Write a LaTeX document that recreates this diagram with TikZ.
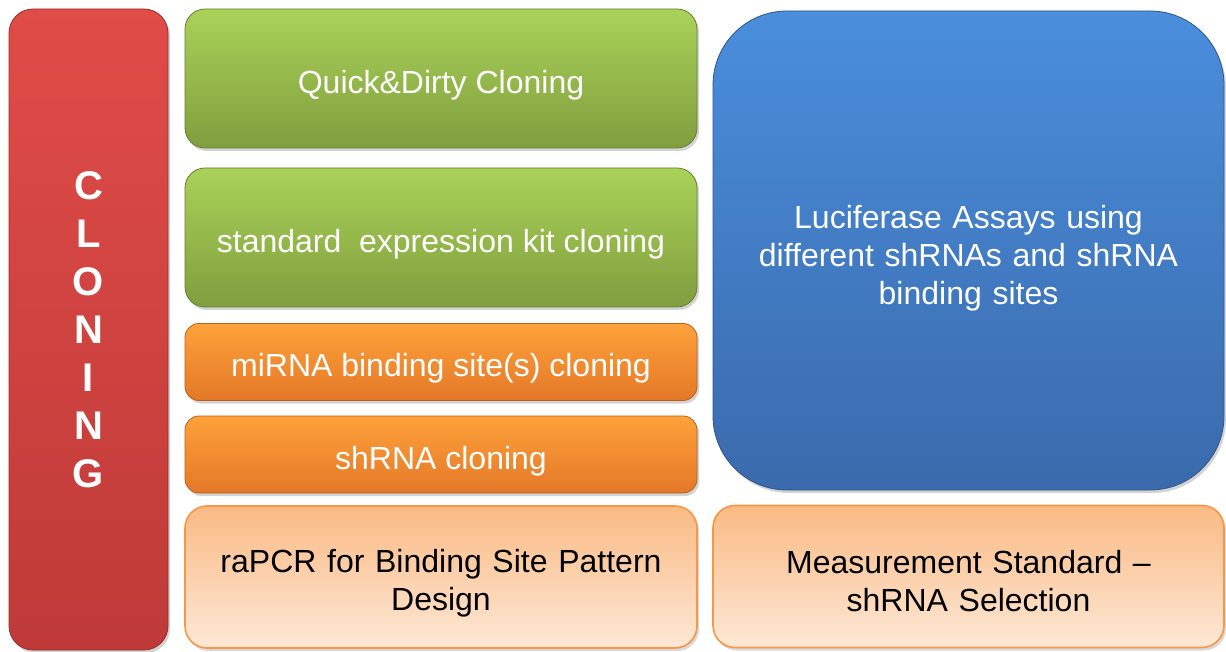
\documentclass[tikz,border=0pt]{standalone}
\usepackage{fontspec}
\setmainfont{Liberation Sans}
\usetikzlibrary{shadows}

\definecolor{redtop}{RGB}{224,76,72}
\definecolor{redbot}{RGB}{190,58,56}
\definecolor{greentop}{RGB}{170,210,88}
\definecolor{greenbot}{RGB}{128,158,62}
\definecolor{orangetop}{RGB}{254,162,58}
\definecolor{orangebot}{RGB}{228,120,40}
\definecolor{peachtop}{RGB}{250,186,132}
\definecolor{peachbot}{RGB}{253,232,214}
\definecolor{peachline}{RGB}{247,150,70}
\definecolor{bluetop}{RGB}{74,142,220}
\definecolor{bluebot}{RGB}{58,106,172}

\begin{document}
\begin{tikzpicture}[x=0.5pt,y=-0.5pt,
  every node/.style={font=\fontsize{16}{19}\selectfont, align=center, inner sep=0pt},
  tile/.style={draw=#1bot!80!black, line width=0.4pt, top color=#1top, bottom color=#1bot,
    drop shadow={shadow xshift=1pt, shadow yshift=-1.5pt, opacity=0.35}},
  redtile/.style={tile=red, rounded corners=12pt, text=white, minimum width=79.5pt, minimum height=320.5pt, text depth=0pt},
  greentile/.style={tile=green, rounded corners=10pt, text=white, minimum width=256pt, minimum height=69.5pt, text height=14.6pt, text depth=0pt},
  orangetile/.style={tile=orange, rounded corners=7pt, text=white, minimum width=256pt, minimum height=38.5pt, text height=14.6pt, text depth=0pt},
  bluetile/.style={tile=blue, rounded corners=37pt, text=white, minimum width=255.5pt, minimum height=239.5pt, text width=230pt},
  peachtile/.style={draw=peachline, line width=0.8pt, top color=peachtop, bottom color=peachbot,
    rounded corners=11pt, text=black, minimum width=256pt, minimum height=71pt, text width=230pt,
    drop shadow={shadow xshift=1pt, shadow yshift=-1.5pt, opacity=0.3}}
]
\useasboundingbox (0,0) rectangle (1226,652);

% left column
\node[redtile, font=\fontsize{20}{24}\selectfont\bfseries] (cloning) at (88.5,329.5)
  {C\\L\\O\\N\\I\\N\\G};

% middle column
\node[greentile] (quick) at (441,78.5) {Quick\&Dirty Cloning};
\node[greentile] (kit) at (441,237.5) {standard\ \ expression kit cloning};
\node[orangetile] (mirna) at (441,362) {miRNA binding site(s) cloning};
\node[orangetile] (shrna) at (441,454.5) {shRNA cloning};
\node[peachtile, text depth=16.4pt] (rapcr) at (441,577) {raPCR for Binding Site Pattern\\Design};

% right column
\node[bluetile, text depth=33.4pt] (luci) at (968.5,250.5)
  {Luciferase Assays using\\different shRNAs and shRNA\\binding sites};
\node[peachtile, minimum width=255.5pt, text depth=14.5pt] (measure) at (968.5,576.5)
  {Measurement Standard --\\shRNA Selection};

\end{tikzpicture}
\end{document}
